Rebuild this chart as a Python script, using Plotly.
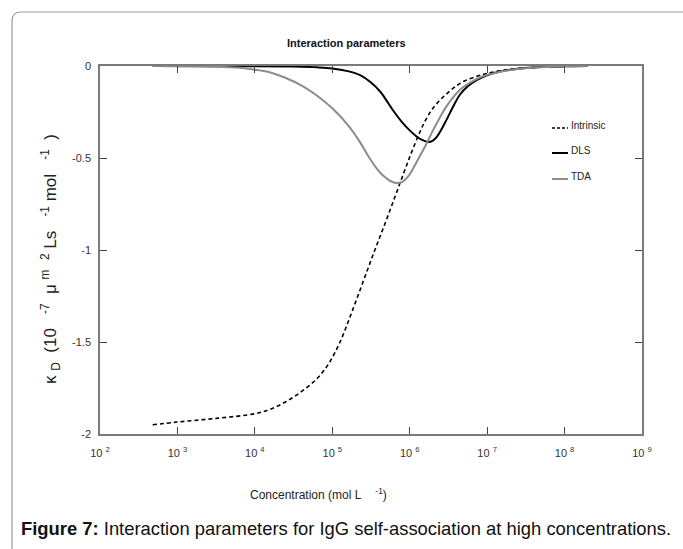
import plotly.graph_objects as go

# ---- data: x as log10(concentration / mol L^-1), y = kD (1e-7 um^2 L s^-1 mol^-1) ----
intrinsic_logx = [2.68, 3.0, 3.5, 4.0, 4.2, 4.4, 4.6, 4.8, 4.95, 5.1, 5.25, 5.4, 5.55,
                  5.7, 5.85, 6.0, 6.13, 6.21, 6.29, 6.38, 6.48, 6.58, 6.69, 6.85, 7.0,
                  7.25, 7.5, 8.0]
intrinsic_y = [-1.95, -1.935, -1.915, -1.89, -1.865, -1.825, -1.77, -1.70, -1.62, -1.50,
               -1.34, -1.17, -1.0, -0.835, -0.665, -0.495, -0.36, -0.29, -0.235, -0.19,
               -0.15, -0.115, -0.085, -0.058, -0.04, -0.02, -0.01, -0.002]

dls_logx = [2.68, 4.0, 4.5, 4.8, 5.0, 5.2, 5.36, 5.5, 5.62, 5.72, 5.8, 5.9, 6.0, 6.08,
            6.16, 6.24, 6.3, 6.35, 6.4, 6.46, 6.52, 6.58, 6.65, 6.75, 6.87, 7.0, 7.17,
            7.4, 7.7, 8.0, 8.3]
dls_y = [0.0, -0.001, -0.003, -0.007, -0.013, -0.028, -0.05, -0.09, -0.14, -0.2, -0.25,
         -0.305, -0.35, -0.38, -0.402, -0.413, -0.405, -0.385, -0.352, -0.305, -0.255,
         -0.205, -0.155, -0.11, -0.075, -0.05, -0.03, -0.015, -0.006, -0.002, 0.0]

tda_logx = [2.68, 3.5, 3.8, 4.0, 4.2, 4.4, 4.6, 4.8, 5.0, 5.2, 5.36, 5.48, 5.58, 5.66,
            5.75, 5.83, 5.91, 5.98, 6.04, 6.13, 6.22, 6.3, 6.39, 6.47, 6.56, 6.66, 6.78,
            6.92, 7.08, 7.3, 7.5, 8.0, 8.3]
tda_y = [0.0, -0.004, -0.01, -0.02, -0.035, -0.065, -0.105, -0.16, -0.23, -0.32, -0.415,
         -0.5, -0.56, -0.597, -0.625, -0.636, -0.628, -0.6, -0.56, -0.49, -0.42, -0.35,
         -0.28, -0.222, -0.17, -0.125, -0.09, -0.06, -0.04, -0.022, -0.012, -0.002, 0.0]

x_tick_vals = [1e2, 1e3, 1e4, 1e5, 1e6, 1e7, 1e8, 1e9]
x_tick_text = ["10 <sup>2</sup>", "10 <sup>3</sup>", "10 <sup>4</sup>", "10 <sup>5</sup>",
               "10 <sup>6</sup>", "10 <sup>7</sup>", "10 <sup>8</sup>", "10 <sup>9</sup>"]
y_tick_vals = [-2, -1.5, -1, -0.5, 0]
y_tick_text = ["-2", "-1.5", "-1", "-0.5", "0"]
legend_names = ["Intrinsic", "DLS", "TDA"]

# ---- layout geometry (pixels) ----
W, H = 683, 549
L, R, T, B = 100, 642, 66, 434

def px(x):
    return (x - L) / (R - L)

def py(y):
    return (B - y) / (B - T)

FONT = "Liberation Sans"
AXC = "#7a7a7a"

fig = go.Figure()
fig.add_trace(go.Scatter(x=[10 ** v for v in intrinsic_logx], y=intrinsic_y, mode="lines",
                         name=legend_names[0],
                         line=dict(color="black", width=1.6, dash="4px,3px", shape="spline", smoothing=1)))
fig.add_trace(go.Scatter(x=[10 ** v for v in dls_logx], y=dls_y, mode="lines", name=legend_names[1],
                         line=dict(color="black", width=2, shape="spline", smoothing=1)))
fig.add_trace(go.Scatter(x=[10 ** v for v in tda_logx], y=tda_y, mode="lines", name=legend_names[2],
                         line=dict(color="#8c8c8c", width=2, shape="spline", smoothing=1)))

fig.update_layout(
    width=W, height=H,
    margin=dict(l=L, r=W - R, t=T, b=H - B),
    paper_bgcolor="white", plot_bgcolor="white",
    showlegend=False,
    font=dict(family=FONT, color="#222"),
)
fig.update_xaxes(type="log", range=[2, 9], tickvals=x_tick_vals, ticktext=x_tick_text,
                 ticks="inside", ticklen=7, tickcolor="#444", tickwidth=1,
                 showline=True, linecolor=AXC, linewidth=1.5, mirror="ticks",
                 showgrid=False, zeroline=False, ticklabelstandoff=8,
                 tickfont=dict(size=11, color="#333"))
fig.update_yaxes(range=[-2, 0], tickvals=y_tick_vals, ticktext=y_tick_text,
                 ticks="inside", ticklen=7, tickcolor="#444", tickwidth=1,
                 showline=True, linecolor=AXC, linewidth=1.5, mirror="ticks",
                 showgrid=False, zeroline=False, ticklabelstandoff=5,
                 tickfont=dict(size=11, color="#333"))

shapes = []
# outer rounded frame (extends beyond right/bottom edges)
x0, y0, r = 12, 12, 9
x1, y1 = 700, 570
path = (f"M {px(x0)},{py(y1)} L {px(x0)},{py(y0 + r)} "
        f"Q {px(x0)},{py(y0)} {px(x0 + r)},{py(y0)} L {px(x1)},{py(y0)}")
shapes.append(dict(type="path", path=path, xref="paper", yref="paper",
                   line=dict(color="#9a9a9a", width=1.2)))
# legend samples
leg_y = [125, 150, 176]
leg_styles = [dict(color="black", width=1.6, dash="3px,2px"),
              dict(color="black", width=2),
              dict(color="#8c8c8c", width=2)]
for yy, st in zip(leg_y, leg_styles):
    shapes.append(dict(type="line", xref="paper", yref="paper",
                       x0=px(552), x1=px(568), y0=py(yy + 3), y1=py(yy + 3), line=st))
fig.update_layout(shapes=shapes)

ann = []
for yy, name in zip(leg_y, legend_names):
    ann.append(dict(x=px(569), y=py(yy), xref="paper", yref="paper", text=name,
                    showarrow=False, xanchor="left", yanchor="middle",
                    font=dict(size=10, family=FONT, color="#222")))
ann.append(dict(x=px(346), y=py(43), xref="paper", yref="paper",
                text="<b>Interaction parameters</b>", showarrow=False,
                xanchor="center", yanchor="middle", font=dict(size=11, family=FONT, color="#111")))
ann.append(dict(x=px(318), y=py(494), xref="paper", yref="paper",
                text="Concentration (mol L<sup>      -1</sup>)", showarrow=False,
                xanchor="center", yanchor="middle", font=dict(size=12, family=FONT, color="#222")))
ann.append(dict(x=px(50), y=py(259), xref="paper", yref="paper",
                text="κ <sub>D</sub>  (10   <sup>-7</sup>  μ <sup>m</sup>  <sup>2</sup> Ls   <sup>-1</sup> mol   <sup>-1</sup>  )",
                showarrow=False, textangle=-90, xanchor="center", yanchor="middle",
                font=dict(size=17, family=FONT, color="#222")))
ann.append(dict(x=px(19), y=py(528), xref="paper", yref="paper",
                text="<b>Figure 7:</b> Interaction parameters for IgG self-association at high concentrations.",
                showarrow=False, xanchor="left", yanchor="middle",
                font=dict(size=18.4, family="Liberation Sans", color="#111")))
fig.update_layout(annotations=ann)

fig.write_html("out.html", config={"displayModeBar": False},
               post_script="document.body.style.margin='0';")
